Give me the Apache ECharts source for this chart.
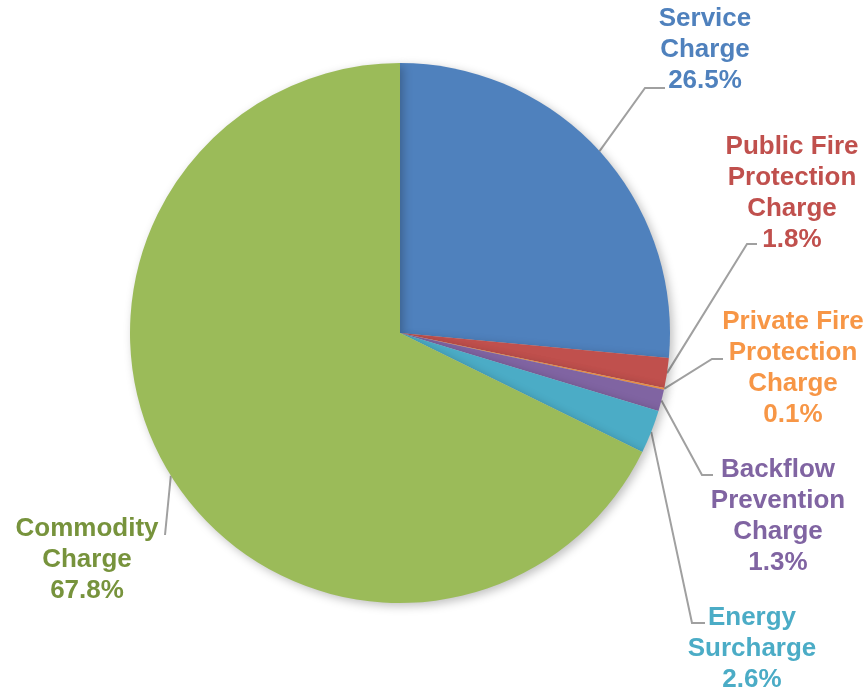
<!DOCTYPE html>
<html>
<head>
<meta charset="utf-8">
<script src="https://cdn.jsdelivr.net/npm/echarts@6/dist/echarts.min.js"></script>
<style>
html,body{margin:0;padding:0;background:#fff;}
#chart{width:867px;height:692px;}
</style>
</head>
<body>
<div id="chart"></div>
<script>
// Data
var categories = [
  "Service\nCharge",
  "Public Fire\nProtection\nCharge",
  "Private Fire\nProtection\nCharge",
  "Backflow\nPrevention\nCharge",
  "Energy\nSurcharge",
  "Commodity\nCharge"
];
var shares = [26.5, 1.8, 0.1, 1.3, 2.6, 67.8];

// Styling / layout (not data)
var sliceColors = ["#4F81BD", "#C0504D", "#F79646", "#8064A2", "#4BACC6", "#9BBB59"];
var labelColors = ["#4F81BD", "#C0504D", "#F79646", "#8064A2", "#4BACC6", "#77933C"];
var CX = 400, CY = 333, R = 270;
var labelPos = [[705, 50], [792, 193], [793, 368], [778, 516], [752, 649], [87, 560]];
var elbows = [
  [[645, 88], [665, 88]],
  [[747, 244], [757, 244]],
  [[712, 359], [723, 359]],
  [[702, 475], [713, 475]],
  [[692, 623], [705, 623]],
  [[165, 535]]
];

var total = shares.reduce(function (a, b) { return a + b; }, 0);
function edgePoint(i) {
  var before = 0;
  for (var k = 0; k < i; k++) before += shares[k];
  var mid = (before + shares[i] / 2) / total * Math.PI * 2;
  return [CX + R * Math.sin(mid), CY - R * Math.cos(mid)];
}

var chart = echarts.init(document.getElementById('chart'), null, {renderer: 'canvas'});
chart.setOption({
  animation: false,
  backgroundColor: '#ffffff',
  series: [{
    type: 'pie',
    center: [CX, CY],
    radius: R,
    startAngle: 90,
    clockwise: true,
    avoidLabelOverlap: false,
    data: categories.map(function (c, i) {
      return {
        name: c,
        value: shares[i],
        itemStyle: {color: sliceColors[i]},
        label: {color: labelColors[i]}
      };
    }),
    itemStyle: {
      shadowBlur: 10,
      shadowOffsetX: 3,
      shadowOffsetY: 3,
      shadowColor: 'rgba(0,0,0,0.25)'
    },
    label: {
      show: true,
      formatter: function (p) { return p.name + '\n' + p.value.toFixed(1) + '%'; },
      fontFamily: 'Liberation Sans',
      fontWeight: 'bold',
      fontSize: 26,
      lineHeight: 31,
      align: 'center'
    },
    labelLine: {
      show: true,
      lineStyle: {color: '#A0A0A0', width: 2}
    },
    labelLayout: function (params) {
      var i = params.dataIndex;
      return {
        x: labelPos[i][0],
        y: labelPos[i][1],
        align: 'center',
        verticalAlign: 'middle',
        labelLinePoints: [edgePoint(i)].concat(elbows[i])
      };
    }
  }]
});
</script>
</body>
</html>
